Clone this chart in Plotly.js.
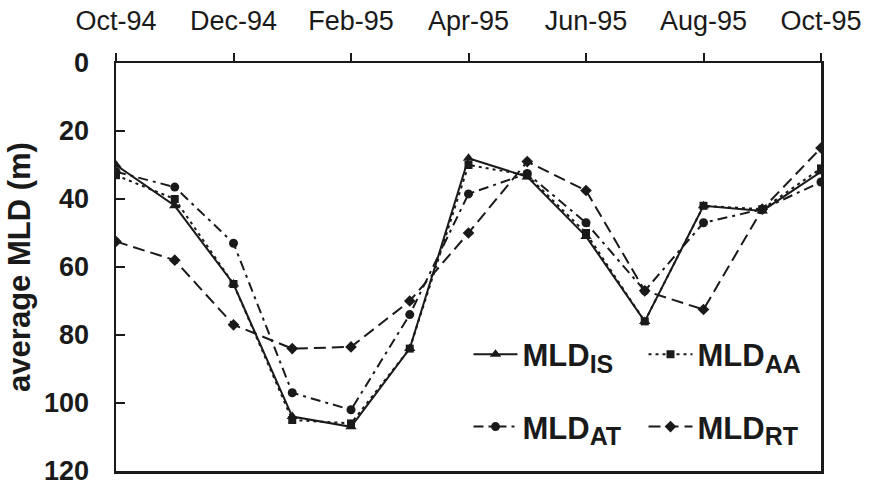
<!DOCTYPE html>
<html>
<head>
<meta charset="utf-8">
<script src="https://cdn.plot.ly/plotly-3.0.1.min.js"></script>
<style>html,body{margin:0;padding:0;background:#fff;}#chart{width:875px;height:490px;}</style>
</head>
<body>
<div id="chart"></div>
<script>
const months = ["Oct-94","Nov-94","Dec-94","Jan-95","Feb-95","Mar-95","Apr-95","May-95","Jun-95","Jul-95","Aug-95","Sep-95","Oct-95"];
const tickLabels = ["Oct-94","Dec-94","Feb-95","Apr-95","Jun-95","Aug-95","Oct-95"];
const yTicks = [0,20,40,60,80,100,120];
const seriesNames = ["MLD<sub><span style='font-size:25px'>IS</span></sub>", "MLD<sub><span style='font-size:25px'>AA</span></sub>", "MLD<sub><span style='font-size:25px'>AT</span></sub>", "MLD<sub><span style='font-size:25px'>RT</span></sub>"];

const mldIS = [30, 42, 65, 104, 107, 84, 28, 33.5, 51, 76, 42, 43.5, 32];
const mldAA = [33, 40, 65, 105, 106, 84, 30, 33, 50, 76, 42, 43, 31];
const mldAT = [32, 36.5, 53, 97, 102, 74, 38.5, 32.5, 47, 67, 47, 43, 35];
const mldRT = [52.5, 58, 77, 84, 83.5, 70, 50, 29, 37.5, 67, 72.5, 43, 25];

const ink = "#1a1a1a";
const font = "Arial, 'Liberation Sans', sans-serif";

function tr(name, y, dash, symbol, size, legend) {
  return {
    x: months, y: y, name: name, type: "scatter", mode: "lines+markers",
    line: {color: ink, width: 2, dash: dash},
    marker: {color: ink, symbol: symbol, size: size},
    legend: legend
  };
}

const data = [
  tr(seriesNames[0], mldIS, "solid", "triangle-up", 10, "legend"),
  tr(seriesNames[1], mldAA, "3px,4px", "square", 8, "legend"),
  tr(seriesNames[2], mldAT, "10px,5px,3px,5px", "circle", 9, "legend2"),
  tr(seriesNames[3], mldRT, "12px,6px", "diamond", 9, "legend2")
];

const legendCommon = {
  orientation: "h", xref: "paper", yref: "paper", xanchor: "left", yanchor: "middle",
  bgcolor: "rgba(0,0,0,0)", entrywidth: 116, entrywidthmode: "pixels",
  font: {family: font, size: 31, color: ink, weight: "bold"}, itemwidth: 44, tracegroupgap: 0
};

const layout = {
  width: 875, height: 490,
  margin: {l: 116, r: 54, t: 63, b: 19},
  paper_bgcolor: "#fff", plot_bgcolor: "#fff",
  showlegend: true,
  xaxis: {
    type: "category", side: "top", range: [0, 12],
    tickvals: tickLabels, ticktext: tickLabels,
    ticks: "outside", ticklen: 8, tickwidth: 2, tickcolor: ink,
    showline: true, linecolor: ink, linewidth: 2.5, mirror: true,
    showgrid: false, zeroline: false,
    tickfont: {family: font, size: 27, color: ink},
    ticklabelstandoff: 12
  },
  yaxis: {
    range: [120, 0], tickvals: yTicks,
    ticks: "inside", ticklen: 9, tickwidth: 2, tickcolor: ink,
    showline: true, linecolor: ink, linewidth: 2.5, mirror: true,
    showgrid: false, zeroline: false,
    tickfont: {family: font, size: 27, color: ink, weight: "bold"},
    ticklabelstandoff: 19,
    title: {text: "average MLD (m)", font: {family: font, size: 31, color: ink, weight: "bold"}, standoff: 4}
  },
  legend: Object.assign({}, legendCommon, {x: 0.5, y: 0.285}),
  legend2: Object.assign({}, legendCommon, {x: 0.5, y: 0.108})
};

Plotly.newPlot("chart", data, layout, {displayModeBar: false, staticPlot: true});
</script>
</body>
</html>
